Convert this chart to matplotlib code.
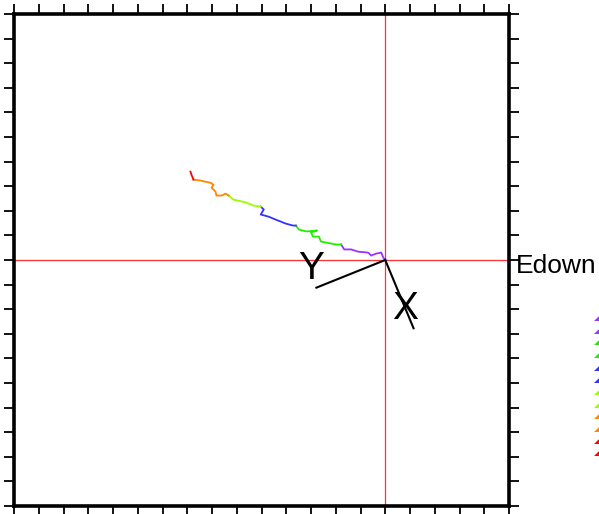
import numpy as np
import matplotlib
matplotlib.use('Agg')
import matplotlib.pyplot as plt

plt.rcParams['font.family'] = ['Liberation Sans', 'DejaVu Sans']

# track positions relative to the station (crosshair at 0, 0)
track_x = [0.0, -0.08, -0.16, -0.37, -0.57, -0.69, -1.10, -1.38, -1.66, -1.78,
           -1.99, -2.19, -2.39, -2.60, -2.68, -2.92, -3.00, -2.75, -3.20, -3.49,
           -3.61, -3.73, -4.02, -4.22, -4.42, -4.71, -5.03, -4.91, -5.03,
           -5.31, -5.60, -5.92, -6.13, -6.33,
           -6.45, -6.61, -6.82, -6.86, -7.02, -6.94, -7.06, -7.26, -7.46, -7.75,
           -7.83, -7.87]
track_y = [0.0, 0.10, 0.30, 0.26, 0.18, 0.30, 0.34, 0.43, 0.43, 0.63,
           0.63, 0.67, 0.71, 0.75, 0.95, 0.95, 1.12, 1.20, 1.16, 1.24,
           1.40, 1.40, 1.48, 1.56, 1.64, 1.76, 1.85, 2.05, 2.17,
           2.21, 2.33, 2.41, 2.45, 2.62,
           2.70, 2.62, 2.62, 2.78, 2.94, 3.06, 3.14, 3.18, 3.23, 3.27,
           3.47, 3.59]
seg_breaks = [0, 9, 20, 28, 33, 43, 45]
seg_colors = ['#9933ff', '#22ee00', '#3333ff', '#99ff00', '#ff8800', '#ff0000']

# sensor axes (direction in degrees, length)
axis_names = ['X', 'Y']
axis_angle = [-67.6, 202.0]
axis_len = 3.0
label_pos = {'X': (0.81, -2.01), 'Y': (-2.99, -0.35)}

fig = plt.figure(figsize=(5.99, 5.14), dpi=100)
ax = fig.add_axes([14 / 599, 8 / 514, 495 / 599, 492 / 514])
ax.set_xlim(-15, 5)
ax.set_ylim(-10, 10)

ax.axhline(0, color='#ff3030', lw=0.9, zorder=1)
ax.axvline(0, color='#ff3030', lw=0.9, zorder=1)

for i, c in enumerate(seg_colors):
    a, b = seg_breaks[i], seg_breaks[i + 1]
    ax.plot(track_x[a:b + 1], track_y[a:b + 1], color=c, lw=1.3, zorder=3)

for name, ang in zip(axis_names, axis_angle):
    t = np.deg2rad(ang)
    ax.plot([0, axis_len * np.cos(t)], [0, axis_len * np.sin(t)], color='black', lw=1.5, zorder=4)
    ax.text(*label_pos[name], name, fontsize=28, ha='center', va='center', zorder=5)

ax.text(5.28, -0.51, 'Edown', fontsize=19, ha='left', va='baseline', clip_on=False)

ax.set_xticks(np.arange(-15, 6, 1))
ax.set_yticks(np.arange(-10, 11, 1))
ax.tick_params(direction='out', length=7, width=1.3, top=True, right=True,
               labelbottom=False, labelleft=False)
for s in ax.spines.values():
    s.set_linewidth(2.6)

# clipped legend entries at the right edge
legend_colors = ['#9933ff', '#9933ff', '#22ee00', '#22ee00', '#3333ff', '#3333ff',
                 '#99ff00', '#99ff00', '#ff8800', '#ff8800', '#ff0000', '#ff0000']
legend_rows = [319, 332, 343, 356, 369, 381, 393, 406, 417, 430, 442, 454]
for c, r in zip(legend_colors, legend_rows):
    fig.text(594 / 599, 1 - r / 514, '\u25e2', color=c, fontsize=6, ha='left', va='center')

fig.savefig('out.png', dpi=100)
